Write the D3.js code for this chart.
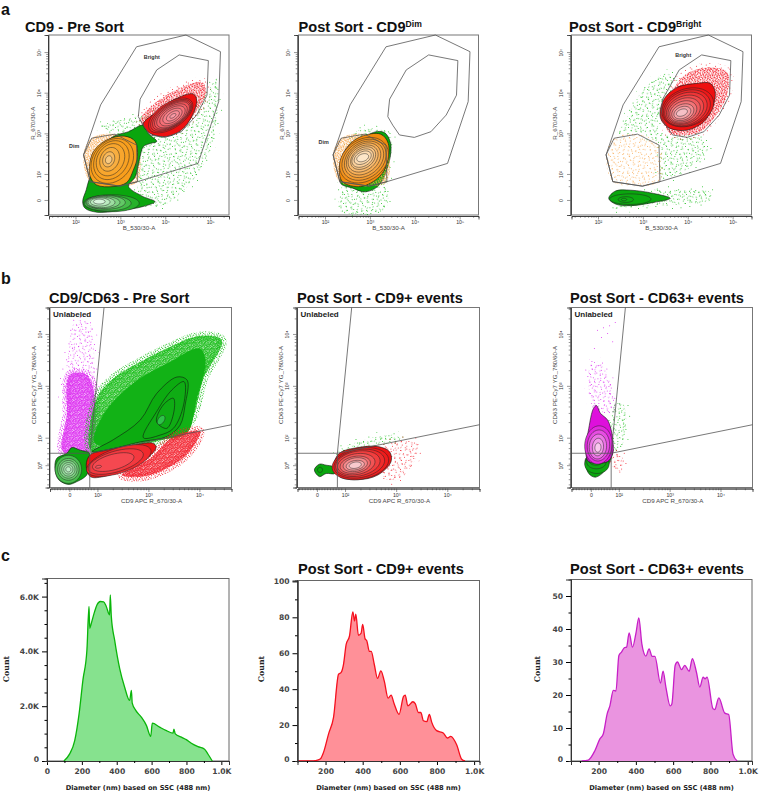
<!DOCTYPE html>
<html>
<head>
<meta charset="utf-8">
<script src="https://cdnjs.cloudflare.com/ajax/libs/d3/7.8.5/d3.min.js"></script>
<style>
  body { margin: 0; background: #fff; }
  text { font-family: "Liberation Sans", sans-serif; }
</style>
</head>
<body>
<script>
// all flow coordinates below are decades (10^2 -> 2)
var gateOuter = [[2.18,2.47],[2.56,3.70],[3.36,5.13],[4.46,5.42],[5.23,5.01],[5.19,3.78],[4.73,2.26],[3.38,1.81],[2.99,1.70],[2.33,1.81]];
var gateDim = [[2.36,2.88],[2.88,2.98],[3.36,2.71],[3.38,1.81],[2.99,1.70],[2.33,1.81],[2.18,2.47]];
var gateBright = [[3.40,3.41],[3.44,3.84],[3.81,4.56],[4.31,4.93],[4.96,4.79],[4.93,3.94],[4.70,3.45],[4.36,3.04],[3.99,2.90],[3.66,2.96],[3.51,3.20]];

// panel a1
var a1GreenCloud = [[2.55,3.16],[3.51,3.45],[4.77,3.82],[5.14,4.31],[5.07,2.84],[4.62,1.85],[3.88,1.20],[3.44,1.36],[3.36,2.34],[2.84,3.0]];
var a1RedCloud = [[3.45,3.33],[3.81,3.78],[4.47,4.18],[4.84,4.25],[4.90,3.98],[4.66,3.49],[4.25,3.05],[3.59,3.12]];
var a1GreenOutline = [[2.16,1.32],[2.24,1.61],[2.30,1.85],[2.44,2.18],[2.55,2.59],[2.84,2.92],[3.18,3.04],[3.51,3.20],[3.62,3.0],[3.81,2.80],[3.66,2.75],[3.51,2.67],[3.44,2.43],[3.33,1.93],[3.18,1.70],[3.51,1.44],[3.77,1.32],[3.51,1.20],[2.99,1.10],[2.47,1.06],[2.21,1.16]];
var a1GreenRings = [[2.8,1.28,.62,.21,0],[2.72,1.28,.52,.19,0],[2.67,1.3,.44,.17,0],[2.62,1.3,.37,.15,0],[2.58,1.3,.3,.13,0],[2.55,1.31,.22,.1,0],[2.53,1.32,.13,.06,0]];
var a1OrangeOutline = [[2.31,2.18],[2.40,2.55],[2.70,2.84],[3.10,2.93],[3.33,2.80],[3.38,2.43],[3.29,2.10],[3.14,1.79],[2.84,1.69],[2.47,1.73],[2.33,1.93]];
var a1OrangeRings = [[2.82,2.32,.58,.44,62],[2.8,2.34,.5,.37,65],[2.78,2.35,.41,.3,68],[2.76,2.36,.3,.21,72],[2.74,2.36,.19,.13,75],[2.74,2.35,.1,.07,75]];
var a1RedOutline = [[3.51,3.23],[3.81,3.53],[4.18,3.82],[4.62,3.97],[4.70,3.82],[4.59,3.41],[4.36,3.08],[4.03,2.92],[3.66,3.0]];
var a1RedRings = [[4.12,3.44,.58,.3,38],[4.13,3.44,.54,.27,38],[4.14,3.44,.5,.25,38],[4.15,3.44,.46,.23,38],[4.15,3.43,.4,.21,38],[4.16,3.43,.33,.18,38],[4.16,3.43,.25,.14,38],[4.17,3.43,.17,.09,38],[4.17,3.43,.08,.04,38]];

// panel a2
var a2GreenCloud = [[2.36,1.61],[2.32,1.11],[2.80,0.99],[3.36,1.16],[3.39,1.85],[3.48,2.59],[3.43,3.04],[3.10,3.12],[2.65,3.0]];
var a2GreenOutline = [[2.34,1.79],[2.62,1.65],[2.90,1.56],[3.2,1.72],[3.43,2.30],[3.46,2.76],[3.32,3.02],[3.0,2.98]];
var a2OrangeOutline = [[2.32,2.18],[2.50,2.67],[2.80,2.92],[3.24,2.98],[3.41,2.75],[3.38,2.26],[3.21,1.93],[2.80,1.69],[2.39,1.81]];
var a2OrangeRings = [[2.87,2.34,.62,.48,48],[2.87,2.35,.56,.43,48],[2.87,2.36,.5,.38,48],[2.86,2.37,.44,.33,48],[2.85,2.38,.38,.28,45],[2.85,2.39,.32,.23,45],[2.84,2.39,.27,.19,40],[2.84,2.4,.21,.14,35],[2.84,2.4,.14,.09,25]];

// panel a3
var a3GreenCloud = [[2.58,3.25],[3.03,4.10],[3.54,4.47],[3.67,4.31],[3.40,3.66],[3.38,3.0],[4.21,2.92],[4.44,2.59],[3.84,2.02],[3.40,1.93],[3.38,2.67],[2.87,3.03],[2.44,3.0]];
var a3GreenTail = [[2.35,1.15],[3.0,1.2],[3.8,1.25],[4.5,1.35],[4.5,1.55],[3.8,1.6],[3.2,1.6]];
var a3GreenOutline = [[2.24,1.40],[2.39,1.58],[2.73,1.60],[3.24,1.52],[3.61,1.40],[3.24,1.30],[2.73,1.22],[2.39,1.26]];
var a3GreenRings = [[2.72,1.38,.46,.13,0],[2.62,1.37,.17,.07,0],[2.58,1.37,.06,.03,0]];
var a3RedCloud = [[3.55,3.05],[3.65,4.0],[3.95,4.45],[4.45,4.62],[4.88,4.50],[4.86,3.90],[4.60,3.40],[4.30,3.05],[3.95,2.95]];
var a3RedOutline = [[3.38,3.49],[3.48,3.86],[3.76,4.13],[4.21,4.23],[4.50,4.23],[4.61,4.02],[4.56,3.66],[4.36,3.29],[3.99,3.08],[3.61,3.12],[3.43,3.29]];
var a3RedRings = [[4.0,3.64,.6,.45,25],[3.98,3.62,.55,.42,28],[3.96,3.6,.5,.38,30],[3.94,3.58,.44,.33,30],[3.92,3.56,.38,.29,30],[3.9,3.54,.32,.24,30],[3.89,3.52,.26,.19,28],[3.88,3.51,.2,.14,28],[3.87,3.51,.13,.08,25]];

// panel b gates
var bGateLow = [[1.07,1.70],[1.85,1.70],[1.85,1.04]];
var bGateUp = [[1.85,1.70],[2.13,4.51]];
var bGateRight = [[1.85,1.70],[4.63,2.25]];

// panel b1
var b1MagentaDense = [[1.33,1.73],[1.40,2.44],[1.46,3.21],[1.79,3.21],[1.95,2.76],[1.84,1.73]];
var b1MagentaSparse = [[1.37,2.63],[1.43,3.59],[1.56,4.23],[1.82,4.23],[1.95,3.40],[1.95,2.63]];
var b1GreenCloud = [[1.89,1.73],[1.99,2.76],[2.31,3.14],[2.84,3.46],[3.36,3.72],[4.01,3.96],[4.44,3.88],[4.08,3.14],[3.82,2.31],[3.36,1.99],[2.71,1.86]];
var b1GreenSolid = [[1.95,1.9],[2.12,2.45],[2.7,3.05],[3.4,3.45],[4.0,3.72],[4.12,3.5],[3.95,2.75],[3.75,2.08],[3.23,1.96],[2.6,1.88]];
var b1GreenLines = [
  [[1.89,1.73],[2.31,1.96],[2.84,2.34],[3.16,2.85],[3.56,3.17],[3.76,3.11],[3.72,2.63],[3.62,2.24],[3.36,2.02],[2.84,1.92],[2.31,1.79]],
  [[2.90,2.0],[3.16,2.5],[3.46,2.92],[3.70,3.08],[3.69,2.63],[3.49,2.18],[3.23,2.05]],
  [[3.16,2.31],[3.29,2.63],[3.49,2.76],[3.50,2.5],[3.36,2.18]]
];
var b1GreenCore = [[3.25,2.34,.1,.06,55]];
var b1RedCloud = [[2.48,1.28],[3.03,1.60],[3.49,2.02],[4.01,2.12],[3.75,1.67],[3.36,1.41],[2.90,1.25]];
var b1RedOutline = [[1.78,1.47],[1.86,1.67],[2.18,1.76],[2.71,1.86],[3.10,1.89],[3.15,1.81],[2.97,1.60],[2.58,1.41],[2.12,1.25],[1.86,1.25]];
var b1RedRings = [[2.42,1.56,.66,.24,18],[2.36,1.54,.56,.2,16],[2.31,1.53,.42,.15,15],[2.02,1.44,.06,.025,10]];
var b1BlobOutline = [[1.17,1.38],[1.20,1.60],[1.40,1.70],[1.50,1.81],[1.66,1.76],[1.84,1.70],[1.82,1.47],[1.79,1.28],[1.59,1.15],[1.43,1.10],[1.24,1.19]];
var b1BlobRings = [[1.43,1.39,.26,.27,0],[1.43,1.39,.21,.21,0],[1.43,1.39,.17,.17,0],[1.43,1.39,.13,.13,0],[1.43,1.39,.09,.09,0],[1.43,1.39,.05,.05,0]];

// panel b2
var b2GreenCloud = [[1.86,1.73],[2.25,1.92],[2.97,2.05],[3.10,1.96],[2.31,1.81],[1.92,1.70]];
var b2RedCloud = [[2.77,1.83],[3.36,1.92],[3.42,1.73],[3.10,1.22],[2.77,1.22]];
var b2BlobOutline = [[1.40,1.38],[1.50,1.49],[1.63,1.47],[1.76,1.44],[1.80,1.31],[1.63,1.31],[1.50,1.25]];
var b2BlobRings = [[1.51,1.38,.05,.05,0]];
var b2RedOutline = [[1.78,1.47],[1.89,1.70],[2.25,1.81],[2.64,1.83],[2.87,1.73],[2.90,1.54],[2.64,1.28],[2.25,1.19],[1.89,1.25]];
var b2RedRings = [[2.3,1.5,.56,.3,10],[2.28,1.5,.5,.27,10],[2.25,1.5,.44,.24,10],[2.22,1.49,.37,.2,10],[2.2,1.48,.3,.16,10],[2.2,1.48,.24,.13,10],[2.2,1.47,.18,.09,10],[2.2,1.47,.12,.06,10]];

// panel b3
var b3MagentaCloud = [[1.44,3.40],[1.61,3.46],[1.93,2.76],[1.90,2.50],[1.64,2.5],[1.50,2.56]];
var b3GreenCloud = [[1.90,2.63],[2.10,2.63],[2.07,1.86],[1.90,1.73]];
var b3RedCloud = [[1.87,1.70],[2.03,1.70],[2.07,1.38],[1.90,1.41]];
var b3MagentaStray = [[1.58,4.07],[1.70,4.12],[1.82,4.16],[1.93,4.22],[1.66,3.93],[1.78,4.01],[1.52,3.72],[1.88,3.85]];
var b3GreenOutline = [[1.35,1.60],[1.41,1.31],[1.54,1.24],[1.74,1.38],[1.87,1.67],[1.88,1.79]];
var b3GreenRings = [[1.57,1.49,.24,.18,0],[1.56,1.53,.19,.13,0],[1.55,1.56,.14,.09,0]];
var b3MagentaOutline = [[1.35,1.73],[1.41,2.18],[1.50,2.56],[1.56,2.62],[1.64,2.47],[1.78,2.34],[1.87,2.05],[1.88,1.70],[1.78,1.54],[1.41,1.54]];
var b3MagentaRings = [[1.6,1.86,.37,.27,85],[1.6,1.85,.3,.22,85],[1.59,1.83,.24,.17,85],[1.59,1.82,.17,.11,85],[1.59,1.81,.09,.06,85]];

// panel c histograms
var c1Diameter = [97,130,159,184,206,229,241,245,254,273,287,306,325,340,359,363,369,388,417,445,474,484,489,509,541,570,595,604,646,685,723,728,736,771,799,828,866,904,923,948];
var c1Count = [0,260,745,1720,2950,4050,5640,4840,5020,5450,5700,5820,5810,5640,5330,6060,5270,4410,3370,2700,2210,2580,2110,1850,1600,1300,900,1380,1235,1110,1015,1160,990,870,780,650,525,430,255,0];
var c2Diameter = [54,126,144,171,189,216,243,270,284,297,311,329,347,356,363,377,391,400,413,422,436,446,462,480,498,516,537,553,569,596,620,629,643,670,683,700,713,727,745,759,772,798,834,856,874,906,933,951];
var c2Count = [0,0,.2,1.1,4.8,15,24.3,48.3,49.3,54,65,69.6,83,78,81.7,70,71,76,68,67,61,61,54,46,50.2,44.6,35,36.7,32,26,36,36.7,30.7,33,32,27,27,22.4,21.9,26,21.5,16.9,15.6,12.8,13.7,9,1,0];
var c3Diameter = [109,145,180,207,225,246,261,279,293,309,323,338,350,364,382,400,416,432,454,471,487,502,532,546,561,584,593,611,623,645,662,686,703,725,743,761,771,782,814,823,845,877,898,921,943];
var c3Count = [0,.3,3.1,6.7,8.2,14.3,16.8,21.4,21.2,32,33,34.3,34.5,38.8,34.5,38.6,43.4,35.5,31.8,34,31.7,31.7,23.6,27.2,22.4,16.7,17.3,29,30,27.7,29,27.2,31,26.9,22.4,25.4,24.9,25.4,15.8,15.6,19.1,14.5,14.1,2.1,0];

var aDomainX = [1.41, 5.42], aDomainY = [0.99, 5.42];
var bDomainX = [1.07, 4.63], bDomainY = [1.04, 4.51];

var svg = d3.select("body").append("svg").attr("width", 778).attr("height", 797);
var defs = svg.append("defs");

// hand placed dot tile for the clouds, laid twice at an angle so no grid shows
var speckTile = [[.03,.11],[.17,.42],[.29,.07],[.41,.63],[.52,.24],[.66,.49],[.78,.13],[.91,.37],[.08,.71],[.23,.88],[.36,.33],[.47,.93],[.59,.76],[.72,.68],[.85,.85],[.96,.58],[.13,.24],[.62,.03],[.33,.56],[.81,.31]];
var speckColors = {green: "#16bc16", red: "#f2202c", magenta: "#dc2cf0", orange: "#f8a64c"};
var densities = [["sparse", 34, .5], ["mid", 19, .5], ["dense", 9, .55], ["solid", 6, .6]];
var feather = {solid: "dense", dense: "mid", mid: "sparse", sparse: "sparse"};
Object.keys(speckColors).forEach(function(name) {
  densities.forEach(function(k) {
    [["", 0], ["-b", 37]].forEach(function(v) {
      defs.append("pattern").attr("id", name + "-" + k[0] + v[0])
        .attr("patternUnits", "userSpaceOnUse").attr("width", k[1]).attr("height", k[1])
        .attr("patternTransform", "rotate(" + v[1] + ")")
        .selectAll("circle").data(speckTile).enter().append("circle")
        .attr("cx", function(d) { return d[0] * k[1]; })
        .attr("cy", function(d) { return d[1] * k[1]; })
        .attr("r", k[2]).attr("fill", speckColors[name]);
    });
  });
});

function logMinor(from, to) {
  var out = [];
  d3.range(from, to).forEach(function(n) {
    d3.range(2, 10).forEach(function(m) { out.push(n + Math.log10(m)); });
  });
  return out;
}
function sup(n) { return "10" + "⁰¹²³⁴⁵"[n]; }

function flowPanel(box, domX, domY, opts) {
  var x = d3.scaleLinear().domain(domX).range([box[0], box[0] + box[2]]);
  var y = d3.scaleLinear().domain(domY).range([box[1] + box[3], box[1]]);
  var g = svg.append("g");
  var p = {x: x, y: y, g: g};
  p.poly = d3.line().x(function(d) { return x(d[0]); }).y(function(d) { return y(d[1]); }).curve(d3.curveCatmullRomClosed.alpha(.5));
  p.straight = d3.line().x(function(d) { return x(d[0]); }).y(function(d) { return y(d[1]); });
  p.closed = d3.line().x(function(d) { return x(d[0]); }).y(function(d) { return y(d[1]); }).curve(d3.curveLinearClosed);

  g.append("rect").attr("x", box[0]).attr("y", box[1]).attr("width", box[2]).attr("height", box[3])
    .attr("fill", "#fff").attr("stroke", "#777").attr("stroke-width", 1);

  // axes are added last by the caller, after the populations
  p.axes = function() {
    var by = box[1] + box[3] + 1, lx = box[0] - 1;
    var ax = svg.append("g").attr("transform", "translate(0," + by + ")")
      .call(d3.axisBottom(x).tickValues(opts.xMajor).tickSize(3.5).tickPadding(1).tickFormat(opts.xLabel));
    var ay = svg.append("g").attr("transform", "translate(" + lx + ",0)")
      .call(d3.axisLeft(y).tickValues(opts.yMajor).tickSize(3.5).tickPadding(1).tickFormat(opts.yLabel));
    svg.append("g").attr("transform", "translate(0," + by + ")")
      .call(d3.axisBottom(x).tickValues(opts.xMinor).tickSize(1.8).tickFormat(""));
    svg.append("g").attr("transform", "translate(" + lx + ",0)")
      .call(d3.axisLeft(y).tickValues(opts.yMinor).tickSize(1.8).tickFormat(""));
    svg.selectAll(".domain").attr("stroke", "#333").attr("stroke-width", .8);
    svg.selectAll(".tick line").attr("stroke", "#333").attr("stroke-width", .5);
    ax.selectAll("text").attr("font-size", 5.2).attr("fill", "#333").attr("font-family", "Liberation Sans");
    ay.selectAll("text").attr("font-size", 5.2).attr("fill", "#333").attr("font-family", "Liberation Sans")
      .attr("text-anchor", "middle").attr("dy", 0).attr("x", -7.5)
      .attr("transform", function() { return "rotate(-90," + d3.select(this).attr("x") + ",0)"; });
    svg.append("text").attr("x", box[0] + box[2] * opts.xLabelAt).attr("y", box[1] + box[3] + 15)
      .attr("text-anchor", "middle").attr("font-size", 6.2).attr("fill", "#444").text(opts.xTitle);
    svg.append("text").attr("transform", "translate(" + (box[0] - 14.5) + "," + (box[1] + box[3] * opts.yLabelAt) + ") rotate(-90)")
      .attr("text-anchor", "middle").attr("font-size", 6.2).attr("fill", "#444").text(opts.yTitle);
  };
  return p;
}

function cloud(p, pts, density, color, noEdge) {
  var d = p.poly(pts);
  p.g.append("path").attr("d", d).attr("fill", "url(#" + color + "-" + density + ")");
  p.g.append("path").attr("d", d).attr("fill", "url(#" + color + "-" + density + "-b)");
  if (noEdge) return;
  p.g.append("path").attr("d", d).attr("fill", "none")
    .attr("stroke", "url(#" + color + "-" + feather[density] + ")").attr("stroke-width", 9);
}
function gate(p, pts) {
  p.g.append("path").attr("d", p.closed(pts)).attr("fill", "none").attr("stroke", "#555").attr("stroke-width", .8);
}
function gateLine(p, pts) {
  p.g.append("path").attr("d", p.straight(pts)).attr("fill", "none").attr("stroke", "#555").attr("stroke-width", .8);
}
function ellipse(e) {
  var a = e[4] * Math.PI / 180;
  return d3.range(0, 40).map(function(i) {
    var t = i / 40 * 2 * Math.PI;
    return [e[0] + e[2] * Math.cos(t) * Math.cos(a) - e[3] * Math.sin(t) * Math.sin(a),
            e[1] + e[2] * Math.cos(t) * Math.sin(a) + e[3] * Math.sin(t) * Math.cos(a)];
  });
}
function population(p, outline, rings, base, pale, k) {
  p.g.append("path").attr("d", p.poly(outline)).attr("fill", base).attr("stroke", "#111").attr("stroke-width", .6);
  var mix = d3.interpolateRgb(base, pale);
  p.g.selectAll(null).data(rings).enter().append("path")
    .attr("d", function(d) { return p.poly(ellipse(d)); })
    .attr("fill", function(d, i) { return mix(Math.pow((i + 1) / rings.length, k)); })
    .attr("stroke", "#222").attr("stroke-width", .5);
}
function note(p, x, y, txt, size) {
  p.g.append("text").attr("x", p.x(x)).attr("y", p.y(y)).attr("font-size", size).attr("font-weight", "bold")
    .attr("fill", "#333").attr("text-anchor", "middle").text(txt);
}
function title(x, y, txt, supTxt) {
  var t = svg.append("text").attr("x", x).attr("y", y).attr("font-size", 14.6).attr("font-weight", "bold").attr("fill", "#111").text(txt);
  if (supTxt) t.append("tspan").attr("dy", -5).attr("font-size", 8.6).text(supTxt);
}

var aOpts = {
  xMajor: [2,3,4,5], yMajor: [1.36,2,3,4,5],
  xLabel: function(d) { return sup(d); },
  yLabel: function(d) { return d < 2 ? "0" : sup(d); },
  xMinor: [1.48,1.6,1.7,1.78,1.85,1.9,1.95].concat(logMinor(2, 5), [5.3]),
  yMinor: [1.7,1.85].concat(logMinor(2, 5)),
  xTitle: "B_530/30-A", yTitle: "R_670/30-A", xLabelAt: .5, yLabelAt: .49
};
var bOpts = {
  xMajor: [1.45,2,3,4], yMajor: [1.47,2,3,4],
  xLabel: function(d) { return d < 2 ? "0" : sup(d); },
  yLabel: function(d) { return d < 2 ? sup(0) : sup(d); },
  xMinor: d3.range(1.1, 1.98, .055).concat(logMinor(2, 4), [4.3, 4.48]),
  yMinor: d3.range(1.1, 1.98, .1).concat(logMinor(2, 4), [4.3, 4.48]),
  xTitle: "CD9 APC R_670/30-A", yTitle: "CD63 PE-Cy7 YG_780/60-A", xLabelAt: .56, yLabelAt: .43
};

// ---- row a
var a1 = flowPanel([49,35,180,180], aDomainX, aDomainY, aOpts);
cloud(a1, a1GreenCloud, "mid", "green");
cloud(a1, a1RedCloud, "dense", "red");
cloud(a1, gateDim, "dense", "orange", true);
population(a1, a1GreenOutline, a1GreenRings, "#0aa60e", "#d8f5dc", 1);
population(a1, a1OrangeOutline, a1OrangeRings, "#f89e1b", "#f8c981", 2.5);
population(a1, a1RedOutline, a1RedRings, "#ee1010", "#f99aa5", .9);
gate(a1, gateOuter); gate(a1, gateDim); gate(a1, gateBright);
note(a1, 3.70, 4.82, "Bright", 5.4); note(a1, 1.97, 2.63, "Dim", 5.4);
a1.axes();

var a2 = flowPanel([298.5,35,180,180], aDomainX, aDomainY, aOpts);
cloud(a2, a2GreenCloud, "mid", "green");
population(a2, a2GreenOutline, [], "#0aa60e", "#0aa60e", 1);
cloud(a2, gateDim, "dense", "orange", true);
population(a2, a2OrangeOutline, a2OrangeRings, "#f28a0c", "#fde6c8", 1.1);
gate(a2, gateOuter); gate(a2, gateDim); gate(a2, gateBright);
note(a2, 1.97, 2.74, "Dim", 5.4);
a2.axes();

var a3 = flowPanel([571.5,35,180,180], aDomainX, aDomainY, aOpts);
cloud(a3, a3GreenCloud, "mid", "green");
cloud(a3, a3GreenTail, "mid", "green");
cloud(a3, gateDim, "mid", "orange", true);
cloud(a3, a3RedCloud, "dense", "red");
population(a3, a3GreenOutline, a3GreenRings, "#0aa60e", "#0fae12", 1);
population(a3, a3RedOutline, a3RedRings, "#ee1010", "#f6c0c6", 1.4);
gate(a3, gateOuter); gate(a3, gateDim); gate(a3, gateBright);
note(a3, 3.90, 4.89, "Bright", 5.4);
a3.axes();

// ---- row b
var b1 = flowPanel([50,307.5,181.5,180], bDomainX, bDomainY, bOpts);
cloud(b1, b1MagentaSparse, "mid", "magenta");
cloud(b1, b1MagentaDense, "solid", "magenta");
cloud(b1, b1GreenCloud, "solid", "green");
b1.g.append("path").attr("d", b1.poly(b1GreenSolid)).attr("fill", "#12b216");
b1GreenLines.forEach(function(l, i) {
  b1.g.append("path").attr("d", b1.poly(l)).attr("fill", i == 0 ? "#0cab10" : "#0fac14").attr("stroke", "#111").attr("stroke-width", .55);
});
population(b1, [], b1GreenCore, "#0fac14", "#2fc24a", 1);
cloud(b1, b1RedCloud, "solid", "red");
population(b1, b1BlobOutline, b1BlobRings, "#0aa60e", "#bdeec4", .6);
population(b1, b1RedOutline, b1RedRings, "#ee1414", "#f7555f", .8);
gateLine(b1, bGateLow); gateLine(b1, bGateUp); gateLine(b1, bGateRight);
b1.axes();

var b2 = flowPanel([297.5,307.5,182,180], bDomainX, bDomainY, bOpts);
cloud(b2, b2GreenCloud, "mid", "green");
cloud(b2, b2RedCloud, "mid", "red");
population(b2, b2BlobOutline, b2BlobRings, "#0aa60e", "#0aa60e", 1);
population(b2, b2RedOutline, b2RedRings, "#ee1414", "#f9c9cd", 1.5);
gateLine(b2, bGateLow); gateLine(b2, bGateUp); gateLine(b2, bGateRight);
b2.axes();

var b3 = flowPanel([571.5,307.5,181,180], bDomainX, bDomainY, bOpts);
cloud(b3, b3MagentaCloud, "mid", "magenta");
cloud(b3, b3GreenCloud, "mid", "green");
cloud(b3, b3RedCloud, "mid", "red");
b3.g.selectAll(null).data(b3MagentaStray).enter().append("circle")
  .attr("cx", function(d) { return b3.x(d[0]); }).attr("cy", function(d) { return b3.y(d[1]); })
  .attr("r", .5).attr("fill", speckColors.magenta);
population(b3, b3GreenOutline, b3GreenRings, "#0aa60e", "#12a916", 1);
population(b3, b3MagentaOutline, b3MagentaRings, "#de10dc", "#f9c8ee", 1.2);
gateLine(b3, bGateLow); gateLine(b3, bGateUp); gateLine(b3, bGateRight);
b3.axes();

[b1, b2, b3].forEach(function(p) {
  p.g.append("text").attr("x", p.x.range()[0] + 3).attr("y", 317).attr("font-size", 8)
    .attr("font-weight", "bold").attr("fill", "#222").text("Unlabeled");
});

// ---- row c
function histogram(box, domX, domY, xs, ys, xTicks, yMajor, yMinor, yFmt, line, fill, countX) {
  var x = d3.scaleLinear().domain(domX).range([box[0], box[0] + box[2]]);
  var y = d3.scaleLinear().domain(domY).range([box[1] + box[3], box[1]]);
  var pts = xs.map(function(d, i) { return [d, ys[i]]; });
  var curve = d3.curveMonotoneX;
  svg.append("rect").attr("x", box[0]).attr("y", box[1]).attr("width", box[2]).attr("height", box[3])
    .attr("fill", "#fff").attr("stroke", "#666").attr("stroke-width", 1);
  svg.append("path").datum(pts).attr("fill", fill)
    .attr("d", d3.area().x(function(d) { return x(d[0]); }).y0(y(0)).y1(function(d) { return y(d[1]); }).curve(curve));
  svg.append("path").datum(pts).attr("fill", "none").attr("stroke", line).attr("stroke-width", 1.3)
    .attr("d", d3.line().x(function(d) { return x(d[0]); }).y(function(d) { return y(d[1]); }).curve(curve));

  var by = box[1] + box[3], lx = box[0];
  var ax = svg.append("g").attr("transform", "translate(0," + by + ")")
    .call(d3.axisBottom(x).tickValues(xTicks).tickSize(4).tickPadding(4).tickFormat(function(d) { return d >= 1000 ? "1.0K" : d; }));
  svg.append("g").attr("transform", "translate(0," + by + ")")
    .call(d3.axisBottom(x).tickValues(d3.range(100, domX[1], 100).filter(function(v) { return xTicks.indexOf(v) < 0 && v >= domX[0]; })).tickSize(2).tickFormat(""));
  var ay = svg.append("g").attr("transform", "translate(" + lx + ",0)")
    .call(d3.axisLeft(y).tickValues(yMajor).tickSize(5).tickPadding(3).tickFormat(yFmt));
  svg.append("g").attr("transform", "translate(" + lx + ",0)")
    .call(d3.axisLeft(y).tickValues(yMinor).tickSize(2.5).tickFormat(""));
  svg.selectAll(".domain").attr("stroke", "#333");
  [ax, ay].forEach(function(a) {
    a.selectAll("text").style("font-family", "DejaVu Sans").attr("font-weight", "bold").attr("font-size", 7.6).attr("fill", "#444");
  });
  // lowest count label sits a little above its tick
  ay.selectAll(".tick text").filter(function(d) { return d === 0; }).attr("dy", "0.05em");

  svg.append("text").attr("x", x(domX[0]) + box[2] / 2).attr("y", 790).attr("text-anchor", "middle")
    .attr("font-weight", "bold").attr("font-size", 6.7).attr("fill", "#222")
    .style("font-family", "DejaVu Sans").text("Diameter (nm) based on SSC (488 nm)");
  svg.append("text").attr("transform", "translate(" + countX + ",669) rotate(-90)").attr("text-anchor", "middle")
    .style("font-family", "DejaVu Serif").attr("font-weight", "bold").attr("font-size", 7.8).attr("fill", "#222").text("Count");
}

function kFmt(d) { return d == 0 ? "0" : (d / 1000).toFixed(1) + "K"; }
histogram([47,578.5,182,182.5], [0,1044], [0,6660], c1Diameter, c1Count, [0,200,400,600,800,1000],
  [0,2000,4000,6000], [500,1000,1500,2500,3000,3500,4500,5000,5500,6500], kFmt, "#0ab50a", "#86e28e", 9);
histogram([297.5,580.5,182,180.5], [49,1029], [0,100.5], c2Diameter, c2Count, [200,400,600,800,1000],
  [0,20,40,60,80,100], [10,30,50,70,90], function(d) { return d; }, "#f5101e", "#ff9098", 264);
histogram([571,579.5,181,181.5], [52,1023], [0,55], c3Diameter, c3Count, [200,400,600,800,1000],
  [0,10,20,30,40,50], [5,15,25,35,45], function(d) { return d; }, "#c71fc7", "#ea94e0", 540);

// ---- titles
title(25, 32, "CD9 - Pre Sort");
title(298.5, 32, "Post Sort - CD9", "Dim");
title(569, 32, "Post Sort - CD9", "Bright");
title(49, 303, "CD9/CD63 - Pre Sort");
title(297, 303, "Post Sort - CD9+ events");
title(570, 303, "Post Sort - CD63+ events");
title(298, 574, "Post Sort - CD9+ events");
title(570, 574, "Post Sort - CD63+ events");

[["a", 14.5], ["b", 284], ["c", 561]].forEach(function(d) {
  svg.append("text").attr("x", 1).attr("y", d[1]).attr("font-size", 16).attr("font-weight", "bold").attr("fill", "#111").text(d[0]);
});
</script>
</body>
</html>
